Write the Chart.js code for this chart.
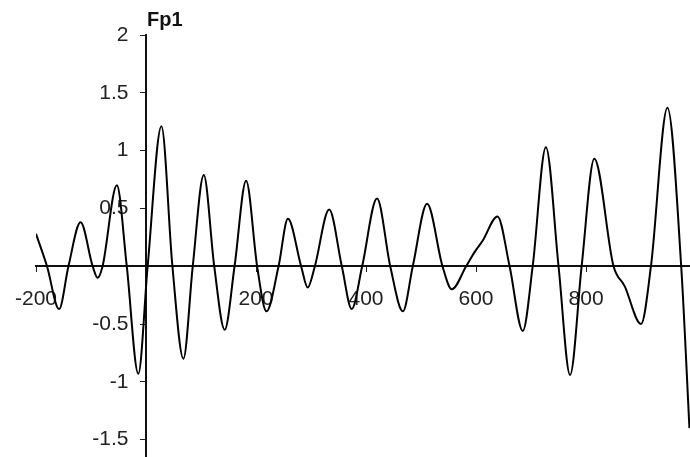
<!DOCTYPE html>
<html>
<head>
<meta charset="utf-8">
<script src="https://cdn.jsdelivr.net/npm/chart.js@4.4.0/dist/chart.umd.min.js"></script>
<style>
  html, body { margin: 0; background: #fff; }
  #wrap { width: 690px; height: 457px; }
</style>
</head>
<body>
<div id="wrap"><canvas id="grafico"></canvas></div>
<script>
// time (ms) and Fp1 amplitude (peaks, troughs, crossings)
const timeMs = [-200, -180, -158, -141, -119, -97, -88, -79, -53, -35, -14, 3,
  28, 48, 68, 85, 105, 124, 143, 161, 182, 202, 219, 241, 258, 282, 294, 307,
  333, 356, 374, 393, 420, 444, 467, 485, 511, 539, 556, 582, 597, 612, 639,
  661, 685, 703, 727, 750, 771, 792, 815, 850, 870, 900, 918, 948, 973, 988];
const fp1 = [0.28, 0, -0.37, 0, 0.38, 0, -0.10, 0, 0.70, 0, -0.93, 0,
  1.21, 0, -0.80, 0, 0.79, 0, -0.55, 0, 0.74, 0, -0.39, 0, 0.41, 0, -0.185, 0,
  0.49, 0, -0.37, 0, 0.585, 0, -0.39, 0, 0.54, 0, -0.20, 0, 0.12, 0.22, 0.43,
  0, -0.56, 0, 1.03, 0, -0.94, 0, 0.93, 0, -0.17, -0.50, 0, 1.37, 0, -1.40];

const xTicks = [-200, 0, 200, 400, 600, 800];
const yTicks = [-1.5, -1, -0.5, 0, 0.5, 1, 1.5, 2];
const titulo = "Fp1";

const fonte = "'Liberation Sans', Arial, sans-serif";

// axes sit on the zero lines, so they should not take room from the plot
function semEspaco(s) {
  if (s.isHorizontal()) s.height = 0; else s.width = 0;
  s.paddingTop = 0;
  s.paddingBottom = 0;
  s.paddingLeft = 0;
  s.paddingRight = 0;
}

const tituloPlugin = {
  id: "tituloFp1",
  afterDraw(chart) {
    const ctx = chart.ctx;
    const x = chart.scales.x.getPixelForValue(0);
    const top = chart.scales.y.getPixelForValue(2);
    ctx.save();
    ctx.font = "bold 20px " + fonte;
    ctx.fillStyle = "#111";
    ctx.textAlign = "left";
    ctx.textBaseline = "alphabetic";
    ctx.fillText(titulo, x + 1, top - 9);
    ctx.restore();
  }
};

new Chart(document.getElementById("grafico").getContext("2d"), {
  type: "line",
  data: {
    datasets: [{
      label: titulo,
      data: timeMs.map((t, i) => ({ x: t, y: fp1[i] })),
      borderColor: "#000",
      borderWidth: 2,
      pointRadius: 0,
      fill: false,
      cubicInterpolationMode: "monotone"
    }]
  },
  options: {
    responsive: true,
    maintainAspectRatio: false,
    animation: false,
    layout: { padding: { left: 36, top: 35, right: 0, bottom: 0 } },
    plugins: { legend: { display: false }, tooltip: { enabled: false } },
    scales: {
      x: {
        type: "linear",
        min: -200,
        max: 989,
        position: { y: 0 },
        afterFit: semEspaco,
        afterBuildTicks: (s) => { s.ticks = xTicks.map((v) => ({ value: v })); },
        grid: { drawOnChartArea: false, drawTicks: true, tickLength: 5, tickColor: "#222" },
        border: { display: true, color: "#111", width: 2 },
        ticks: {
          color: "#222",
          font: { family: fonte, size: 21 },
          padding: 15,
          maxRotation: 0,
          autoSkip: false,
          callback: (v) => (v === 0 ? "" : v)
        }
      },
      y: {
        type: "linear",
        min: -1.65,
        max: 2,
        position: { x: 0 },
        afterFit: semEspaco,
        afterBuildTicks: (s) => { s.ticks = yTicks.map((v) => ({ value: v })); },
        grid: { drawOnChartArea: false, drawTicks: true, tickLength: 5, tickColor: "#222" },
        border: { display: true, color: "#111", width: 2 },
        ticks: {
          color: "#222",
          font: { family: fonte, size: 21 },
          autoSkip: false,
          // labels of a value-positioned axis ignore padding, so keep a gap with spaces
          callback: (v) => (v === 0 ? "" : v + "   ")
        }
      }
    }
  },
  plugins: [tituloPlugin]
});
</script>
</body>
</html>
